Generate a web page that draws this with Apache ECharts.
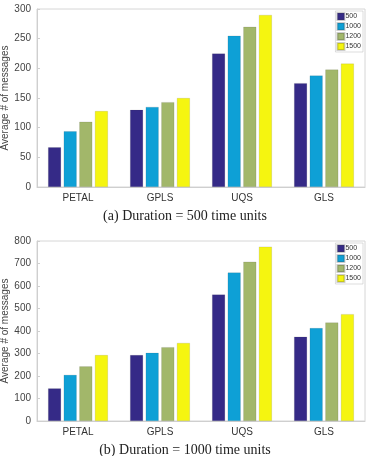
<!DOCTYPE html>
<html>
<head>
<meta charset="utf-8">
<script src="https://cdn.jsdelivr.net/npm/echarts@6/dist/echarts.min.js"></script>
<style>
    html, body { margin: 0; padding: 0; background: #fff; }
    #chart { width: 370px; height: 456px; }
</style>
</head>
<body>
<div id="chart"></div>
<script>
// 数据
var categories = ['PETAL', 'GPLS', 'UQS', 'GLS'];
var seriesNames = ['500', '1000', '1200', '1500'];
var colors = ['#352a87', '#0ea0d6', '#a2b76a', '#f5f510'];
// (a) Duration = 500
var values500 = [
    [67, 130, 225, 175],
    [94, 135, 255, 188],
    [110, 143, 270, 198],
    [128, 150, 290, 208]
];
// (b) Duration = 1000
var values1000 = [
    [145, 293, 562, 375],
    [205, 303, 660, 413],
    [243, 328, 708, 438],
    [293, 347, 775, 475]
];
var yTicksTop = {min: 0, max: 300, interval: 50};
var yTicksBottom = {min: 0, max: 800, interval: 100};
var captions = ['(a) Duration = 500 time units', '(b) Duration = 1000 time units'];

function messagesChart() {
    var myChart = echarts.init(document.getElementById('chart'));
    var grids = [
        {left: 37, top: 9, width: 328, height: 178},
        {left: 37, top: 241, width: 328, height: 180}
    ];
    var xAxes = [], yAxes = [], series = [], legends = [];
    var ticks = [yTicksTop, yTicksBottom];
    var data = [values500, values1000];
    for (var g = 0; g < 2; g++) {
        grids[g].show = true;
        grids[g].borderColor = '#d6d6d6';
        grids[g].borderWidth = 1;
        grids[g].containLabel = false;
        grids[g].outerBoundsMode = 'none';
        xAxes.push({
            gridIndex: g,
            type: 'category',
            data: categories,
            axisLine: {lineStyle: {color: '#cfcfcf'}},
            axisTick: {show: false},
            axisLabel: {color: '#333', fontSize: 10, fontFamily: 'Liberation Sans', margin: 6}
        });
        yAxes.push({
            gridIndex: g,
            type: 'value',
            min: ticks[g].min,
            max: ticks[g].max,
            interval: ticks[g].interval,
            name: 'Average # of messages',
            nameLocation: 'middle',
            nameGap: 27,
            nameMoveOverlap: false,
            nameTextStyle: {color: '#444', fontSize: 10, fontFamily: 'Liberation Sans'},
            axisLine: {show: true, lineStyle: {color: '#cfcfcf'}},
            axisTick: {show: true, inside: true, length: 3, lineStyle: {color: '#cfcfcf'}},
            splitLine: {show: false},
            axisLabel: {color: '#444', fontSize: 10, fontFamily: 'Liberation Sans', margin: 6}
        });
        for (var s = 0; s < seriesNames.length; s++) {
            series.push({
                name: seriesNames[s],
                type: 'bar',
                xAxisIndex: g,
                yAxisIndex: g,
                data: data[g][s],
                barGap: '20%',
                barCategoryGap: '27%',
                itemStyle: {color: colors[s], borderColor: 'rgba(60,60,60,0.25)', borderWidth: 0.5}
            });
        }
        legends.push({
            data: seriesNames,
            orient: 'vertical',
            icon: 'rect',
            right: 7,
            top: g === 0 ? 11 : 243,
            itemWidth: 7,
            itemHeight: 7,
            itemGap: 1,
            padding: [1, 2, 1, 1],
            borderColor: '#bbb',
            borderWidth: 0.5,
            backgroundColor: '#fff',
            selectedMode: false,
            textStyle: {fontSize: 7, color: '#333', fontFamily: 'Liberation Sans', padding: [0, 0, 0, -4]}
        });
    }
    var option = {
        animation: false,
        color: colors,
        title: [
            {text: captions[0], left: 'center', top: 204,
                textStyle: {fontSize: 14, fontWeight: 'normal', color: '#222', fontFamily: 'Liberation Serif'}},
            {text: captions[1], left: 'center', top: 438,
                textStyle: {fontSize: 14, fontWeight: 'normal', color: '#222', fontFamily: 'Liberation Serif'}}
        ],
        legend: legends,
        grid: grids,
        xAxis: xAxes,
        yAxis: yAxes,
        series: series
    };
    myChart.setOption(option, true);
}

messagesChart();
</script>
</body>
</html>
